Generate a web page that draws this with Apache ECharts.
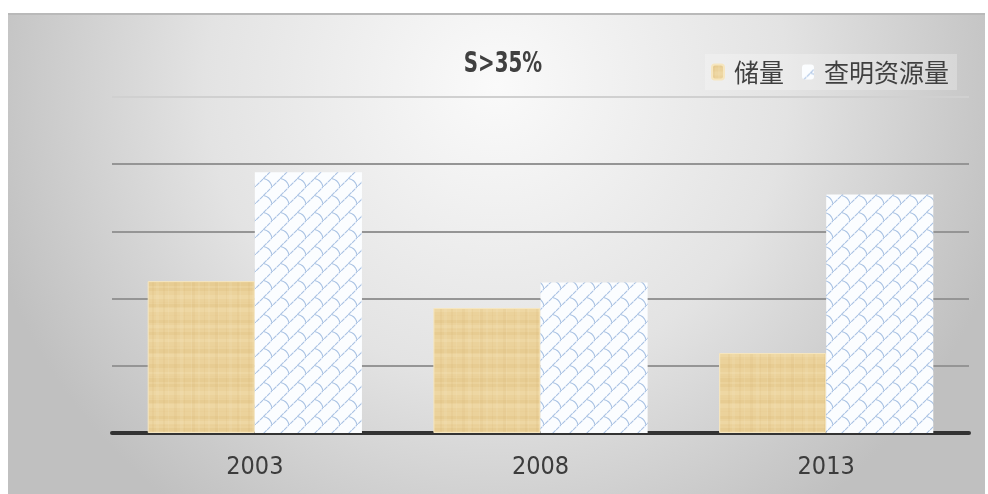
<!DOCTYPE html>
<html>
<head>
<meta charset="utf-8">
<style>
  html, body { margin: 0; padding: 0; background: #ffffff; }
  #chart { width: 988px; height: 494px; }
</style>
<script src="https://cdn.jsdelivr.net/npm/echarts@6/dist/echarts.min.js"></script>
</head>
<body>
<div id="chart"></div>
<script>
// Chart data
const titleText = 'S>35%';
const years = ['2003', '2008', '2013'];
const seriesNames = ['储量', '查明资源量'];
const reserves = [2.26, 1.86, 1.19];
const identified = [3.88, 2.24, 3.55];

const narrowFont = '"DejaVu Sans Condensed", "Liberation Sans Narrow", "Noto Sans", sans-serif';
const cjkFont = '"Noto Sans CJK SC", "Noto Sans", sans-serif';

// Papyrus-like fill for the reserves bars
function papyrusTile() {
  const w = 96, h = 96;
  const c = document.createElement('canvas');
  c.width = w; c.height = h;
  const g = c.getContext('2d');
  g.fillStyle = '#ebd29b';
  g.fillRect(0, 0, w, h);
  // horizontal fibres of uneven width
  let y = 0;
  let k = 0;
  while (y < h) {
    const t = Math.sin(k * 2.17) * 0.5 + 0.5;
    const bh = 1 + Math.round(t * 3);
    g.fillStyle = (k % 3 === 0) ? 'rgba(214,178,105,0.18)'
                : (k % 3 === 1) ? 'rgba(248,232,186,0.25)'
                : 'rgba(228,196,128,0.12)';
    g.fillRect(0, y, w, bh);
    y += bh + 1 + Math.round((Math.cos(k * 1.31) * 0.5 + 0.5) * 3);
    k++;
  }
  // faint vertical fibres
  let x = 0;
  k = 0;
  while (x < w) {
    const t = Math.cos(k * 1.73) * 0.5 + 0.5;
    g.fillStyle = (k % 2 === 0) ? 'rgba(205,168,95,0.10)' : 'rgba(250,236,196,0.14)';
    g.fillRect(x, 0, 1 + Math.round(t * 2), h);
    x += 3 + Math.round((Math.sin(k * 2.9) * 0.5 + 0.5) * 5);
    k++;
  }
  return c;
}

// Light blue shingle pattern for the identified-resource bars
function shingleTile() {
  const s = 17;
  const c = document.createElement('canvas');
  c.width = s; c.height = s;
  const g = c.getContext('2d');
  g.fillStyle = '#fbfdff';
  g.fillRect(0, 0, s, s);
  g.strokeStyle = '#a9c2e3';
  g.lineWidth = 1.1;
  g.lineCap = 'round';
  // rising diagonal chain
  g.setLineDash([3.5, 1.6]);
  g.beginPath();
  g.moveTo(-2, s + 2); g.lineTo(s + 2, -2);
  g.stroke();
  g.setLineDash([]);
  // curved links to the next chain, offset like bricks
  g.beginPath();
  g.moveTo(s / 2, s / 2);
  g.quadraticCurveTo(s * 0.92, s * 0.58, s, s);
  g.moveTo(-s / 2, s / 2);
  g.quadraticCurveTo(-s * 0.08, s * 0.58, 0, s);
  g.moveTo(s / 2, -s / 2);
  g.quadraticCurveTo(s * 0.92, -s * 0.42, s, 0);
  g.stroke();
  return c;
}

const chart = echarts.init(document.getElementById('chart'), null, { renderer: 'canvas' });

chart.setOption({
  animation: false,
  backgroundColor: '#ffffff',
  graphic: [
    {
      type: 'rect',
      z: -100,
      shape: { x: 8, y: 13, width: 977, height: 481 },
      style: {
        fill: {
          type: 'radial', x: 0.5, y: 0.15, r: 1.1,
          colorStops: [
            { offset: 0, color: '#fafafa' },
            { offset: 0.55, color: '#e3e3e3' },
            { offset: 1, color: '#c0c0c0' }
          ]
        }
      }
    },
    {
      type: 'rect',
      z: -99,
      shape: { x: 8, y: 13, width: 977, height: 2 },
      style: { fill: '#b9b9b9' }
    },
    {
      // chart title, condensed horizontally
      type: 'text',
      z: 10,
      x: 503,
      y: 64,
      scaleX: 0.76,
      style: {
        x: 0,
        y: 0,
        text: titleText,
        align: 'center',
        verticalAlign: 'middle',
        fontFamily: narrowFont,
        fontWeight: 'bold',
        fontSize: 29,
        fill: '#404040'
      }
    }
  ],
  legend: {
    right: 31,
    top: 54,
    itemWidth: 12,
    itemHeight: 15,
    itemGap: 18,
    padding: [4, 8, 4, 6],
    backgroundColor: 'rgba(255,255,255,0.25)',
    textStyle: {
      fontFamily: cjkFont,
      fontSize: 25,
      lineHeight: 28,
      color: '#404040',
      padding: [0, 0, 0, 5]
    },
    data: seriesNames
  },
  grid: { left: 112, right: 19, top: 97, bottom: 61, containLabel: false },
  xAxis: {
    type: 'category',
    data: years,
    axisTick: { show: false },
    axisLine: { show: true, lineStyle: { color: '#333333', width: 4 } },
    axisLabel: {
      margin: 21,
      fontFamily: narrowFont,
      fontSize: 25,
      lineHeight: 26,
      color: '#3c3c3c'
    }
  },
  yAxis: {
    type: 'value',
    min: 0,
    max: 5,
    interval: 1,
    axisLabel: { show: false },
    axisLine: { show: false },
    axisTick: { show: false },
    splitLine: {
      show: true,
      lineStyle: {
        width: 2,
        color: ['#959595', '#959595', '#959595', '#959595', '#959595', '#d0d0d0']
      }
    }
  },
  series: [
    {
      name: seriesNames[0],
      type: 'bar',
      data: reserves,
      barGap: '0%',
      barCategoryGap: '25%',
      itemStyle: {
        color: { image: papyrusTile(), repeat: 'repeat' },
        borderColor: '#f6e6bf',
        borderWidth: 1
      }
    },
    {
      name: seriesNames[1],
      type: 'bar',
      data: identified,
      barGap: '0%',
      barCategoryGap: '25%',
      itemStyle: {
        color: { image: shingleTile(), repeat: 'repeat' }
      }
    }
  ]
});
</script>
</body>
</html>
